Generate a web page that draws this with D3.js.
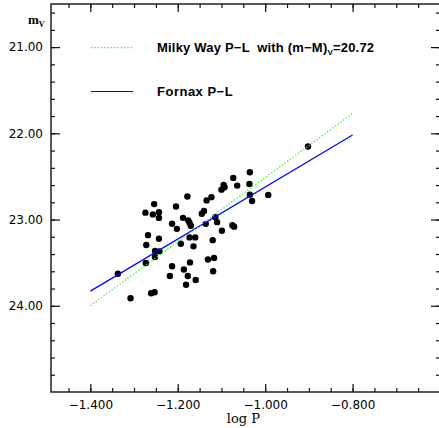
<!DOCTYPE html>
<html>
<head>
<meta charset="utf-8">
<script src="https://cdn.jsdelivr.net/npm/d3@7"></script>
<style>
  body { margin: 0; background: #fff; }
  text { fill: #000; white-space: pre; }
</style>
</head>
<body>
<div id="chart-area"></div>
<script>
const MARGIN = { LEFT: 51, RIGHT: -1, TOP: 4, BOTTOM: 36 }
const WIDTH = 439 - MARGIN.LEFT - MARGIN.RIGHT
const HEIGHT = 428 - MARGIN.TOP - MARGIN.BOTTOM

// Fornax variables (log P, m_V)
const logP = [-1.337, -1.308, -1.261, -1.253, -1.274, -1.254, -1.257, -1.243, -1.243, -1.268,
  -1.272, -1.273, -1.243, -1.252, -1.242, -1.252, -1.204, -1.213, -1.202, -1.188,
  -1.178, -1.176, -1.173, -1.170, -1.193, -1.173, -1.160, -1.164, -1.213, -1.218,
  -1.186, -1.172, -1.177, -1.181, -1.159, -1.145, -1.140, -1.134, -1.123, -1.136,
  -1.120, -1.131, -1.117, -1.119, -1.110, -1.114, -1.099, -1.100, -1.095, -1.093,
  -1.073, -1.064, -1.035, -1.036, -1.035, -1.030, -0.993, -1.075, -1.071, -0.902]
const mV = [23.628, 23.913, 23.855, 23.843, 22.920, 22.821, 22.940, 22.914, 22.981, 23.181,
  23.295, 23.503, 23.222, 23.364, 23.369, 23.433, 22.848, 23.048, 23.108, 22.980,
  22.732, 23.009, 23.038, 23.071, 23.280, 23.207, 23.207, 23.311, 23.541, 23.655,
  23.580, 23.497, 23.654, 23.756, 23.701, 22.932, 22.900, 22.778, 22.740, 23.050,
  23.239, 23.463, 23.445, 23.599, 23.030, 22.974, 23.129, 22.653, 22.598, 22.626,
  22.517, 22.606, 22.452, 22.587, 22.711, 22.784, 22.714, 23.065, 23.082, 22.153]

// P-L relations (end points)
const mwLogP = [-1.4, -0.8]
const mwMag = [24.00, 21.77]
const fxLogP = [-1.4, -0.8]
const fxMag = [23.83, 22.02]

const xTicks = [-1.4, -1.2, -1.0, -0.8, -0.6]
const yTicks = [21, 22, 23, 24]

const svg = d3.select("#chart-area").append("svg")
  .attr("width", 439)
  .attr("height", 428)
  .append("g")
  .attr("transform", `translate(${MARGIN.LEFT},${MARGIN.TOP})`)

const x = d3.scaleLinear().domain([-1.49, -0.6]).range([0, WIDTH])
const y = d3.scaleLinear().domain([20.5, 25]).range([0, HEIGHT])

const xMinor = d3.range(-1.45, -0.6, 0.05)
const yMinor = d3.range(20.6, 25, 0.2)

function clean(g) {
  g.select(".domain").remove()
  g.selectAll("line").attr("stroke", "#111").attr("stroke-width", 1.2)
  g.selectAll("text").style("font-family", "DejaVu Sans").style("font-size", "12px").attr("fill", "#000")
}

// bottom
svg.append("g").attr("transform", `translate(0,${HEIGHT})`)
  .call(d3.axisBottom(x).tickValues(xMinor).tickSize(-4).tickFormat("")).call(clean)
svg.append("g").attr("transform", `translate(0,${HEIGHT})`)
  .call(d3.axisBottom(x).tickValues(xTicks).tickSize(-8).tickPadding(8)
    .tickFormat(d => d > -0.65 ? "" : d3.format(".3f")(d))).call(clean)
// top
svg.append("g")
  .call(d3.axisTop(x).tickValues(xMinor).tickSize(-4).tickFormat("")).call(clean)
svg.append("g")
  .call(d3.axisTop(x).tickValues(xTicks).tickSize(-8).tickFormat("")).call(clean)
// left
svg.append("g")
  .call(d3.axisLeft(y).tickValues(yMinor).tickSize(-4).tickFormat("")).call(clean)
svg.append("g")
  .call(d3.axisLeft(y).tickValues(yTicks).tickSize(-9).tickPadding(8).tickFormat(d3.format(".2f"))).call(clean)
// right
svg.append("g").attr("transform", `translate(${WIDTH},0)`)
  .call(d3.axisRight(y).tickValues(yMinor).tickSize(-4).tickFormat("")).call(clean)
svg.append("g").attr("transform", `translate(${WIDTH},0)`)
  .call(d3.axisRight(y).tickValues(yTicks).tickSize(-9).tickFormat("")).call(clean)

// frame
svg.append("rect")
  .attr("x", 0).attr("y", 0)
  .attr("width", WIDTH).attr("height", HEIGHT)
  .attr("fill", "none").attr("stroke", "#111").attr("stroke-width", 1.4)

// points
svg.selectAll("circle.star")
  .data(logP.map((d, i) => [d, mV[i]]))
  .join("circle")
  .attr("class", "star")
  .attr("cx", d => x(d[0]))
  .attr("cy", d => y(d[1]))
  .attr("r", 3.2)
  .attr("fill", "#000")

const line = d3.line().x(d => x(d[0])).y(d => y(d[1]))

svg.append("path")
  .datum(fxLogP.map((d, i) => [d, fxMag[i]]))
  .attr("d", line)
  .attr("fill", "none").attr("stroke", "#0000ff").attr("stroke-width", 1.2)

svg.append("path")
  .datum(mwLogP.map((d, i) => [d, mwMag[i]]))
  .attr("d", line)
  .attr("fill", "none").attr("stroke", "#33ee33").attr("stroke-width", 1.3)
  .attr("stroke-dasharray", "1.3,2")

// legend
const legend = svg.append("g").attr("transform", "translate(40,0)")
legend.append("line")
  .attr("x1", 0).attr("x2", 42).attr("y1", 43.7).attr("y2", 43.7)
  .attr("stroke", "#33ee33").attr("stroke-width", 1.3).attr("stroke-dasharray", "1.3,2")
legend.append("line")
  .attr("x1", 0).attr("x2", 42).attr("y1", 87.5).attr("y2", 87.5)
  .attr("stroke", "#0000ff").attr("stroke-width", 1.2)

const mwText = legend.append("text")
  .attr("x", 66).attr("y", 48)
  .style("font-family", "Liberation Sans").style("font-size", "13px")
  .style("font-weight", "bold").style("letter-spacing", "0.2px")
mwText.append("tspan").text("Milky Way P\u2212L  with (m\u2212M)")
mwText.append("tspan").attr("dy", 3).style("font-size", "8px").text("V")
mwText.append("tspan").attr("dy", -3).text("=20.72")

legend.append("text")
  .attr("x", 66).attr("y", 91.5)
  .style("font-family", "Liberation Sans").style("font-size", "13px")
  .style("font-weight", "bold").style("letter-spacing", "0.5px")
  .text("Fornax P\u2212L")

// axis titles
const yTitle = svg.append("text")
  .attr("x", -23).attr("y", 20)
  .style("font-family", "Liberation Serif").style("font-size", "13px").style("font-weight", "bold")
yTitle.append("tspan").text("m")
yTitle.append("tspan").attr("dy", 3).style("font-size", "8px").text("V")

svg.append("text")
  .attr("x", x(-1.05)).attr("y", HEIGHT + 31)
  .attr("text-anchor", "middle")
  .style("font-family", "DejaVu Serif").style("font-size", "13px")
  .text("log P")
</script>
</body>
</html>
